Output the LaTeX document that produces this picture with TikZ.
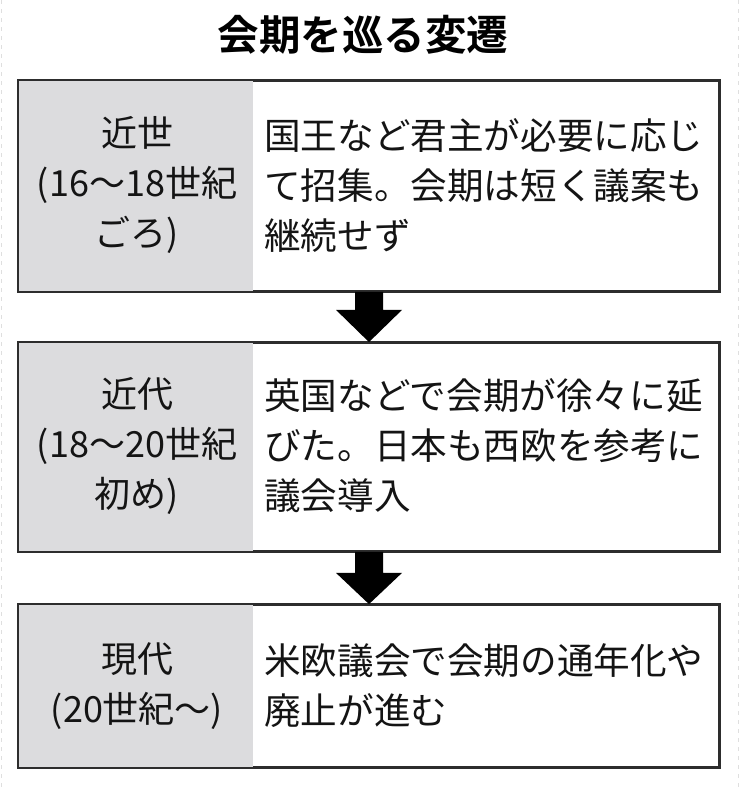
\documentclass[tikz,border=0pt]{standalone}
\usepackage{fontspec}
\usetikzlibrary{calc}
\newfontfamily\jp{Noto Sans CJK JP}
\newfontfamily\jpb{Noto Sans CJK JP Bold}
\definecolor{leftgray}{RGB}{220,220,222}
\definecolor{edgecol}{RGB}{45,45,45}
\tikzset{
  x=1pt, y=-1pt,
  stagebox/.style={draw=edgecol, line width=1.8pt, minimum width=700pt, inner sep=0pt},
  lefttxt/.style={align=center, inner sep=0pt, font=\jp\fontsize{36}{50}\selectfont, text=black!92},
  righttxt/.style={align=left, inner sep=0pt, anchor=west, font=\jp\fontsize{36.6}{50}\selectfont, text=black!92},
  titletxt/.style={inner sep=0pt, font=\jpb\fontsize{41.5}{48}\selectfont},
  bigarrow/.style={fill=black},
  edgemark/.style={draw=gray!25, line width=0.8pt, dash pattern=on 4pt off 5pt}
}
\begin{document}
\begin{tikzpicture}
\useasboundingbox (0,0) rectangle (739,787);
\fill[white] (0,0) rectangle (739,787);
\draw[edgemark] (1,0) -- (1,787);
\draw[edgemark] (738,0) -- (738,787);

\node[titletxt] (title) at (363,35) {会期を巡る変遷};

% boxes
\node[stagebox, minimum height=210pt] (b1) at (369,186) {};
\node[stagebox, minimum height=208pt] (b2) at (369,447) {};
\node[stagebox, minimum height=162pt] (b3) at (369,686) {};

\foreach \b in {b1,b2,b3}{
  \fill[leftgray] (\b.north west) rectangle ($(\b.south west)+(235,0)$);
  \draw[edgecol, line width=1.8pt] (\b.north west) rectangle (\b.south east);
}

% texts
\node[lefttxt] (l1) at (137,185) {近世\\(16〜18世紀\\ごろ)};
\node[righttxt] (r1) at (264,185) {国王など君主が必要に応じ\\て招集。会期は短く議案も\\継続せず};

\node[lefttxt] (l2) at (137,446) {近代\\(18〜20世紀\\初め)};
\node[righttxt] (r2) at (264,446) {英国などで会期が徐々に延\\びた。日本も西欧を参考に\\議会導入};

\node[lefttxt] (l3) at (137,686) {現代\\(20世紀〜)};
\node[righttxt] (r3) at (264,686) {米欧議会で会期の通年化や\\廃止が進む};

% arrows
\fill[bigarrow] ($(b1.south)+(-14,0)$) -- ($(b1.south)+(14,0)$) -- ($(b1.south)+(14,18)$)
  -- ($(b1.south)+(33,18)$) -- (b2.north) -- ($(b1.south)+(-33,18)$) -- ($(b1.south)+(-14,18)$) -- cycle;
\fill[bigarrow] ($(b2.south)+(-14,0)$) -- ($(b2.south)+(14,0)$) -- ($(b2.south)+(14,21)$)
  -- ($(b2.south)+(33,21)$) -- (b3.north) -- ($(b2.south)+(-33,21)$) -- ($(b2.south)+(-14,21)$) -- cycle;
\end{tikzpicture}
\end{document}
